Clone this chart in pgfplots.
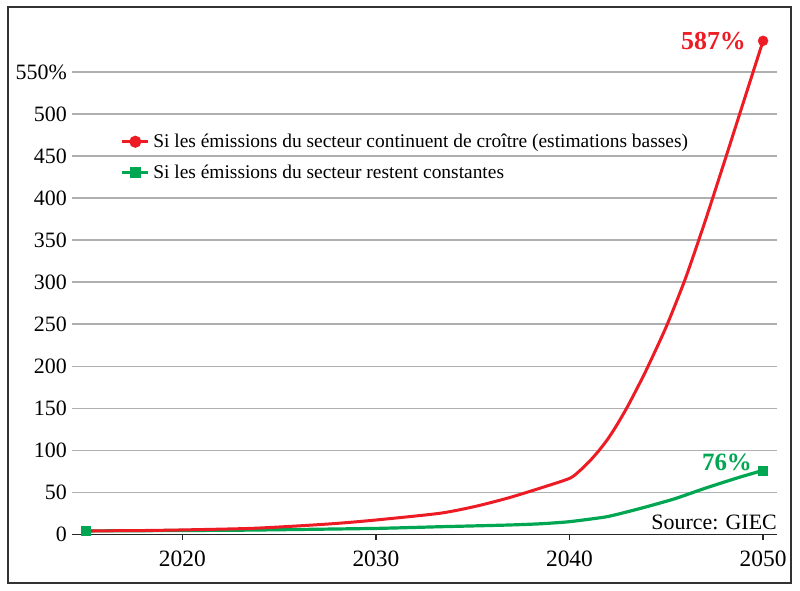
\documentclass[border=0pt]{standalone}
\usepackage{fontspec}
\setmainfont{Liberation Serif}
\usepackage{pgfplots}
\pgfplotsset{compat=1.18}
\definecolor{cred}{RGB}{237,28,36}
\definecolor{cgreen}{RGB}{0,166,81}
\definecolor{cgrid}{RGB}{175,175,175}
\begin{document}
\begin{tikzpicture}
\path[use as bounding box] (0bp,0bp) rectangle (800bp,591bp);
\draw[line width=2bp, black!80] (7.5bp,7.5bp) rectangle (791bp,583.7bp);
\begin{axis}[
  at={(72bp,56.7bp)}, anchor=south west,
  scale only axis, width=705bp, height=504.4bp,
  xmin=2014.3, xmax=2050.72, ymin=0, ymax=600,
  axis x line=bottom, axis y line=left,
  axis line style={-},
  y axis line style={draw=none},
  x axis line style={line width=1.3bp, black!85},
  xtick={2020,2030,2040,2050}, xticklabels={2020,2030,2040,2050},
  ytick={0,50,100,150,200,250,300,350,400,450,500,550},
  yticklabels={0,50,100,150,200,250,300,350,400,450,500,550\%},
  ymajorgrids, grid style={cgrid, line width=1.3bp},
  ytick style={draw=none}, xtick style={black!85, line width=1.2bp},
  tick align=outside, major tick length=6bp,
  x tick label style={font=\fontsize{23.5}{25}\selectfont, inner sep=0pt, yshift=-10bp},
  y tick label style={font=\fontsize{22}{24}\selectfont, inner sep=0pt, xshift=1bp},
  clip=false,
  legend cell align=left,
  legend image code/.code={\draw[mark repeat=2,mark phase=2,#1] plot coordinates {(0bp,0bp)(13bp,0bp)(26bp,0bp)};},
  legend style={draw=none, fill=none, font=\fontsize{19.5}{22}\selectfont,
    at={(rel axis cs:0.069,0.809)}, anchor=north west, inner sep=0pt,
    /tikz/every odd column/.append style={column sep=2.5bp},
    nodes={inner sep=1bp, minimum height=30.6bp}},
]
\addlegendimage{cred, line width=3bp, mark=*, mark size=4.5bp, mark options={solid, fill=cred, draw=cred}}
\addlegendimage{cgreen, line width=3bp, mark=square*, mark size=4bp, mark options={solid, fill=cgreen, draw=cgreen}}
\legend{Si les émissions du secteur continuent de croître (estimations basses), Si les émissions du secteur restent constantes}

\addplot[cgreen, line width=3.2bp, smooth, tension=0.3, forget plot] coordinates {
(2015,4) (2020,4.5) (2023.5,5) (2030,7) (2033.3,9) (2036.8,11) (2038.5,12.5)
(2040,15) (2041.95,21) (2043.7,31) (2045.4,42) (2047.1,55.5) (2048.8,68) (2050,76)};
\addplot[cred, line width=3bp, smooth, tension=0.4, forget plot] coordinates {
(2015,4) (2018,4.5) (2020,5.2) (2023.5,7) (2026,10) (2028,13) (2030,17)
(2033.3,25) (2035.1,33) (2036.8,43) (2038.5,55) (2040,66.5) (2040.5,75)
(2041,86) (2041.5,99) (2042,114) (2042.5,132) (2043,152) (2043.5,174) (2044,197)
(2045,247) (2046,305) (2047,372) (2048,443) (2049,515) (2050,587)};
\addplot[only marks, mark=*, mark size=5bp, cred, forget plot] coordinates {(2050,587)};
\addplot[only marks, mark=square*, mark size=4.5bp, cgreen, forget plot] coordinates {(2015,4) (2050,76)};

\node[font=\bfseries\fontsize{26}{28}\selectfont, text=cred, anchor=east, inner sep=0pt, xshift=-17bp] at (axis cs:2050,587) {587\%};
\node[font=\bfseries\fontsize{25}{27}\selectfont, text=cgreen, anchor=east, inner sep=0pt, xshift=-11bp, yshift=8.5bp] at (axis cs:2050,76) {76\%};
\node[font=\fontsize{22}{24}\selectfont, anchor=base east, inner sep=0pt, yshift=5bp] at (rel axis cs:1,0) {Source: GIEC};
\end{axis}
\end{tikzpicture}
\end{document}
